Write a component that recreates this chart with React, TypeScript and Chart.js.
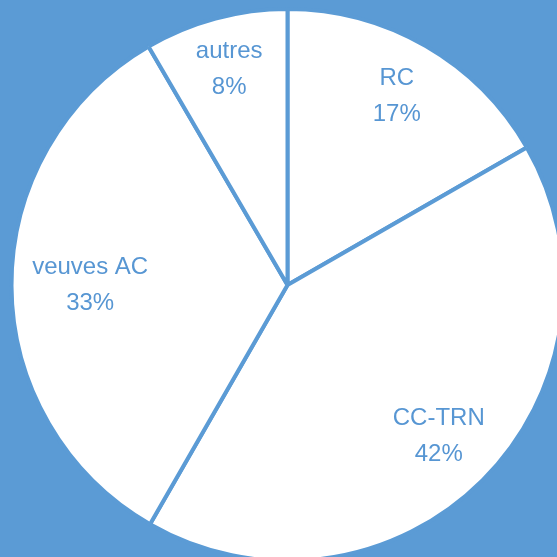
import React, { useEffect, useRef } from "react";
import { Chart, registerables } from "chart.js";

Chart.register(...registerables);

const categories = ["RC", "CC-TRN", "veuves AC", "autres"];
const shares = [16.7, 41.6, 33.3, 8.4];
const shareLabels = ["17%", "42%", "33%", "8%"];

const BLUE = "#5B9BD5";
const TEXT = "#5796D3";

const labelPlugin = {
  id: "sliceLabels",
  afterDatasetsDraw(chart: any, _args: any, opts: any) {
    const ctx = chart.ctx;
    const meta = chart.getDatasetMeta(0);
    const factors: number[] = opts.factors || [];
    ctx.save();
    ctx.fillStyle = TEXT;
    ctx.font = "24px 'Liberation Sans', Arial, sans-serif";
    ctx.textAlign = "center";
    ctx.textBaseline = "middle";
    meta.data.forEach((arc: any, i: number) => {
      const p = arc.getProps(["x", "y", "startAngle", "endAngle", "outerRadius"], true);
      const mid = (p.startAngle + p.endAngle) / 2;
      const r = p.outerRadius * (factors[i] ?? 0.78);
      const cx = p.x + Math.cos(mid) * r;
      const cy = p.y + Math.sin(mid) * r;
      ctx.fillText(categories[i], cx, cy - 18);
      ctx.fillText(shareLabels[i], cx, cy + 18);
    });
    ctx.restore();
  },
};

export default function App() {
  const ref = useRef<HTMLCanvasElement | null>(null);
  useEffect(() => {
    if (!ref.current) return;
    const chart = new Chart(ref.current, {
      type: "pie",
      data: {
        labels: categories,
        datasets: [
          {
            data: shares,
            backgroundColor: "#FFFFFF",
            borderColor: BLUE,
            borderWidth: 4,
            radius: 276,
            clip: false,
          } as any,
        ],
      },
      options: {
        responsive: false,
        animation: false,
        layout: { padding: { left: 18, top: 13, right: 0, bottom: 0 } },
        plugins: {
          legend: { display: false },
          tooltip: { enabled: false },
          sliceLabels: { factors: [0.79, 0.775, 0.715, 0.81] },
        } as any,
      },
      plugins: [labelPlugin],
    });
    return () => chart.destroy();
  }, []);
  return (
    <div
      style={{
        position: "fixed",
        left: 0,
        top: 0,
        width: 557,
        height: 557,
        background: BLUE,
        overflow: "hidden",
      }}
    >
      <canvas ref={ref} width={557} height={557} style={{ display: "block" }} />
    </div>
  );
}
